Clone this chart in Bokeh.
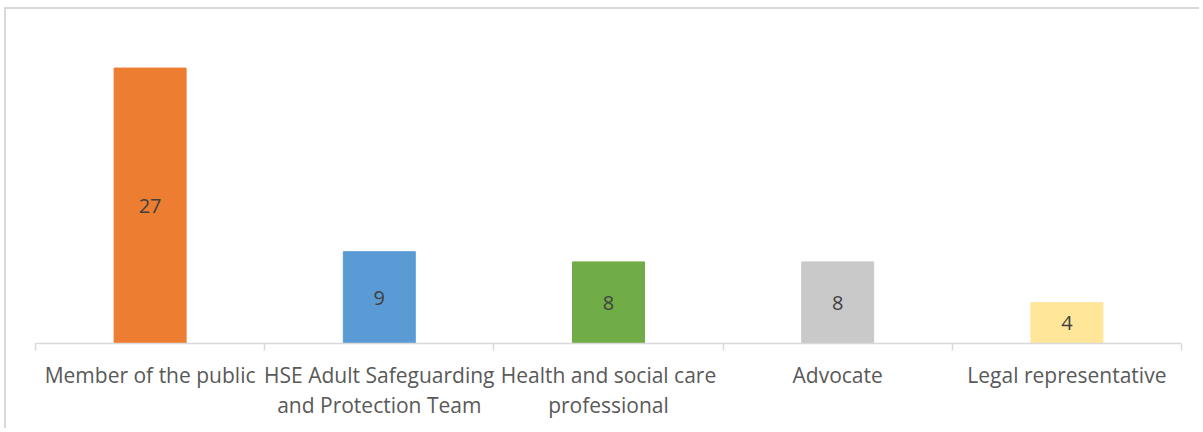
from bokeh.plotting import figure
from bokeh.models import ColumnDataSource, FixedTicker, Range1d
from bokeh.core.properties import value
from bokeh.embed import file_html
from bokeh.resources import INLINE

categories = ["Member of the public", "HSE Adult Safeguarding\nand Protection Team",
              "Health and social care\nprofessional", "Advocate", "Legal representative"]
counts = [27, 9, 8, 8, 4]
colors = ["#ED7D31", "#5B9BD5", "#70AD47", "#C9C9C9", "#FFE699"]

xs = [i + 0.5 for i in range(len(categories))]
src = ColumnDataSource(dict(x=xs, top=counts, color=colors,
                            mid=[c / 2 for c in counts],
                            label=[str(c) for c in counts]))

p = figure(width=1195, height=421, output_backend="svg", toolbar_location=None,
           x_range=Range1d(0, len(categories)), y_range=Range1d(0, 30),
           min_border_left=29, min_border_right=20, min_border_top=28, min_border_bottom=87)
p.styles = {"border-left": "2px solid #D9D9D9", "border-top": "2px solid #D9D9D9",
            "margin-left": "4px", "margin-top": "7px"}
p.outline_line_color = None
p.grid.visible = False
p.yaxis.visible = False
p.background_fill_color = "white"
p.border_fill_color = "white"

p.vbar(x="x", top="top", width=0.314, color="color", source=src)
p.text(x="x", y="mid", text="label", source=src, text_align="center", text_baseline="middle",
       text_font=value("Open Sans"), text_font_size="20px", text_color="#404040")

ax = p.xaxis[0]
ax.ticker = FixedTicker(ticks=xs, minor_ticks=list(range(len(categories) + 1)))
ax.major_label_overrides = {x: c for x, c in zip(xs, categories)}
ax.axis_line_color = "#D9D9D9"
ax.axis_line_width = 1.5
ax.major_tick_line_color = None
ax.major_tick_out = 0
ax.major_tick_in = 0
ax.minor_tick_line_color = "#D9D9D9"
ax.minor_tick_line_width = 1.5
ax.minor_tick_out = 7
ax.minor_tick_in = 0
ax.major_label_standoff = 10
ax.major_label_text_font = "Open Sans"
ax.major_label_text_font_size = "21px"
ax.major_label_text_color = "#595959"
ax.major_label_text_line_height = 1.1

open("out.html", "w").write(file_html(p, INLINE))
